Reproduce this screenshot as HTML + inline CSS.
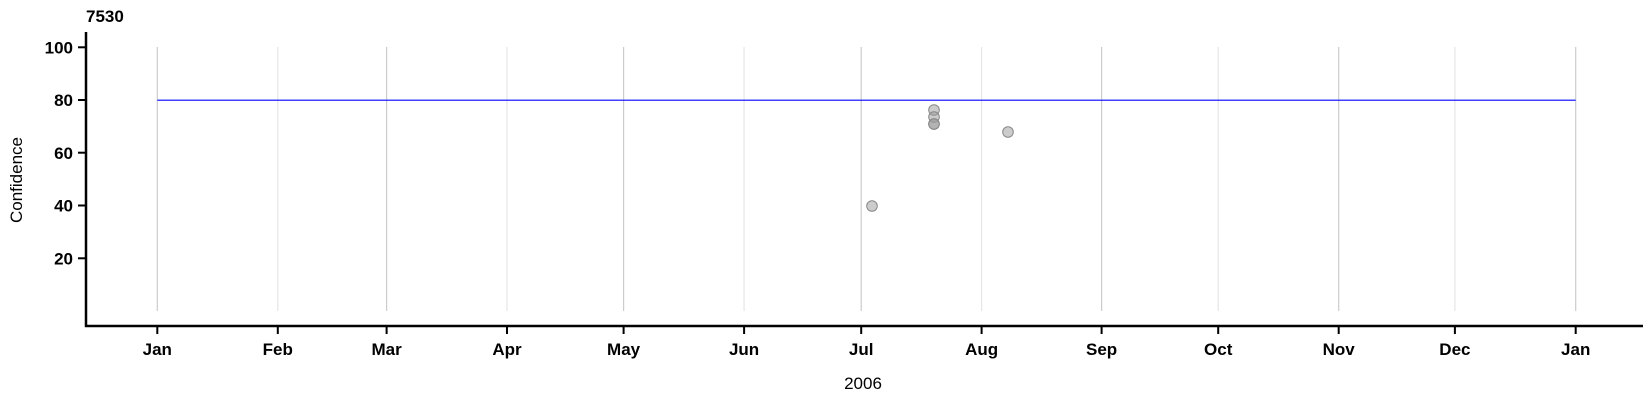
<!DOCTYPE html>
<html><head><meta charset="utf-8"><style>body{margin:0;background:#fff}svg{display:block}text{font-family:"Liberation Sans",Arial,sans-serif}</style></head><body>
<svg width="1650" height="400" xmlns="http://www.w3.org/2000/svg">
<g stroke-width="1.2">
<line x1="157.3" y1="47" x2="157.3" y2="311" stroke="#ccc"/>
<line x1="277.8" y1="47" x2="277.8" y2="311" stroke="#e6e6e6"/>
<line x1="386.6" y1="47" x2="386.6" y2="311" stroke="#ccc"/>
<line x1="507" y1="47" x2="507" y2="311" stroke="#e6e6e6"/>
<line x1="623.6" y1="47" x2="623.6" y2="311" stroke="#ccc"/>
<line x1="744.1" y1="47" x2="744.1" y2="311" stroke="#e6e6e6"/>
<line x1="861.2" y1="47" x2="861.2" y2="311" stroke="#ccc"/>
<line x1="981.6" y1="47" x2="981.6" y2="311" stroke="#e6e6e6"/>
<line x1="1101.6" y1="47" x2="1101.6" y2="311" stroke="#ccc"/>
<line x1="1218.2" y1="47" x2="1218.2" y2="311" stroke="#e6e6e6"/>
<line x1="1338.7" y1="47" x2="1338.7" y2="311" stroke="#ccc"/>
<line x1="1454.9" y1="47" x2="1454.9" y2="311" stroke="#e6e6e6"/>
<line x1="1575.7" y1="47" x2="1575.7" y2="311" stroke="#ccc"/>
</g>
<line x1="157.3" y1="100.2" x2="1575.7" y2="100.2" stroke="#0000ff" stroke-width="1.2"/>
<g fill="#999" fill-opacity="0.5" stroke="#888" stroke-width="1">
<circle cx="872" cy="206" r="5.3"/>
<circle cx="934" cy="110" r="5.3"/>
<circle cx="934" cy="117" r="5.3"/>
<circle cx="934" cy="124" r="5.3"/>
<circle cx="934" cy="124" r="5.3"/>
<circle cx="1008" cy="132" r="5.3"/>
</g>
<g stroke="#000" stroke-width="2.5" fill="none">
<path d="M86,32 V326 H1643"/>
</g>
<g stroke="#000" stroke-width="2">
<line x1="78" y1="47.3" x2="86" y2="47.3"/><line x1="78" y1="100" x2="86" y2="100"/><line x1="78" y1="152.7" x2="86" y2="152.7"/><line x1="78" y1="205.5" x2="86" y2="205.5"/><line x1="78" y1="258.3" x2="86" y2="258.3"/>
<line x1="157.3" y1="326" x2="157.3" y2="334"/><line x1="277.8" y1="326" x2="277.8" y2="334"/><line x1="386.6" y1="326" x2="386.6" y2="334"/><line x1="507" y1="326" x2="507" y2="334"/><line x1="623.6" y1="326" x2="623.6" y2="334"/><line x1="744.1" y1="326" x2="744.1" y2="334"/><line x1="861.2" y1="326" x2="861.2" y2="334"/><line x1="981.6" y1="326" x2="981.6" y2="334"/><line x1="1101.6" y1="326" x2="1101.6" y2="334"/><line x1="1218.2" y1="326" x2="1218.2" y2="334"/><line x1="1338.7" y1="326" x2="1338.7" y2="334"/><line x1="1454.9" y1="326" x2="1454.9" y2="334"/><line x1="1575.7" y1="326" x2="1575.7" y2="334"/>
</g>
<g font-size="17" font-weight="bold" text-anchor="end">
<text x="73" y="53.5">100</text><text x="73" y="106">80</text><text x="73" y="159">60</text><text x="73" y="211.5">40</text><text x="73" y="264.5">20</text>
</g>
<g font-size="17" font-weight="bold" text-anchor="middle">
<text x="157.3" y="355">Jan</text><text x="277.8" y="355">Feb</text><text x="386.6" y="355">Mar</text><text x="507" y="355">Apr</text><text x="623.6" y="355">May</text><text x="744.1" y="355">Jun</text><text x="861.2" y="355">Jul</text><text x="981.6" y="355">Aug</text><text x="1101.6" y="355">Sep</text><text x="1218.2" y="355">Oct</text><text x="1338.7" y="355">Nov</text><text x="1454.9" y="355">Dec</text><text x="1575.7" y="355">Jan</text>
</g>
<text x="86" y="22" font-size="17" font-weight="bold">7530</text>
<text x="863" y="389" font-size="17" text-anchor="middle">2006</text>
<text transform="translate(22,180) rotate(-90)" font-size="17" text-anchor="middle">Confidence</text>
</svg>
</body></html>
